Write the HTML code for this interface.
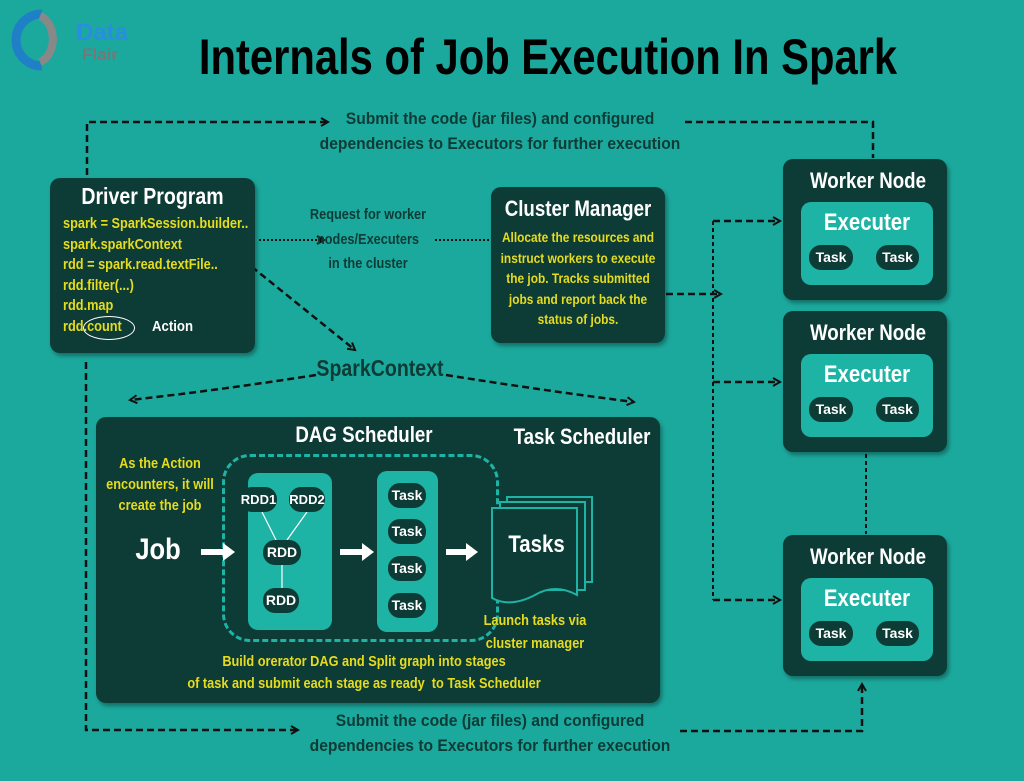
<!DOCTYPE html>
<html><head><meta charset="utf-8"><style>
html,body{margin:0;padding:0}
body{width:1024px;height:781px;position:relative;overflow:hidden;background:#1ca99d;font-family:"Liberation Sans",sans-serif;font-weight:bold}
.a{position:absolute}
.box{position:absolute;background:#0d3b36;border-radius:10px;box-shadow:2px 3px 4px rgba(0,0,0,.35)}
.lt{position:absolute;background:#1db3a5;border-radius:10px}
.pill{position:absolute;background:#0d3b36;color:#fff;border-radius:12px;font-size:14px;text-align:center;line-height:25px}
.t{position:absolute;text-align:center;white-space:nowrap}
.y{color:#e6dc1e}
.w{color:#fff}
.d{color:#0d3b36}
svg{position:absolute;left:0;top:0}
</style></head><body>
<!-- logo -->
<svg width="150" height="80" viewBox="0 0 150 80">
<path d="M42 14 A22 22 0 1 0 42 66" fill="none" stroke="#1f7fc7" stroke-width="9"/>
<path d="M40 16 A18 24 0 0 1 40 62" fill="none" stroke="#888" stroke-width="8"/>
<text x="76" y="40" font-family="Liberation Sans" font-size="24" font-weight="bold" fill="#2a8ee0">Data</text>
<text x="82" y="60" font-family="Liberation Sans" font-size="17" font-weight="bold" fill="#777">Flair</text>
</svg>
<div class="t" style="left:100px;width:896px;top:28px;font-size:50px;color:#000;transform:scaleX(.835)">Internals of Job Execution In Spark</div>

<div class="t d" style="left:300px;width:400px;top:106px;font-size:17px;line-height:25px;transform:scaleX(.92)">Submit the code (jar files) and configured<br>dependencies to Executors for further execution</div>
<div class="t d" style="left:290px;width:400px;top:708px;font-size:17px;line-height:25px;transform:scaleX(.92)">Submit the code (jar files) and configured<br>dependencies to Executors for further execution</div>

<svg width="1024" height="781">
<defs><marker id="ar" markerWidth="10" markerHeight="10" refX="8" refY="5" orient="auto" markerUnits="userSpaceOnUse"><path d="M1 1 L8 5 L1 9" fill="none" stroke="#111" stroke-width="2"/></marker></defs>
<g fill="none" stroke="#111" stroke-width="2.5" stroke-dasharray="7 4">
<path d="M87 175 V122 H328" marker-end="url(#ar)"/>
<path d="M685 122 H873 V158"/>
<path d="M226 246 L355 350" marker-end="url(#ar)"/>
<path d="M316 375 Q220 390 130 400" marker-end="url(#ar)"/>
<path d="M446 375 Q540 390 634 402" marker-end="url(#ar)"/>
<path d="M86 362 V730 H298" marker-end="url(#ar)"/>
<path d="M680 731 H862 V684" marker-end="url(#ar)"/>
<path d="M666 294 H721" marker-end="url(#ar)"/>
<path d="M713 221 H780" marker-end="url(#ar)"/>
<path d="M713 382 H780" marker-end="url(#ar)"/>
<path d="M713 600 H780" marker-end="url(#ar)"/>
</g>
<g fill="none" stroke="#111" stroke-width="2" stroke-dasharray="4 3">
<path d="M713 221 V600"/>
<path d="M866 454 V534"/>
</g>
<g fill="none" stroke="#111" stroke-width="2" stroke-dasharray="2 2">
<path d="M187 246 H226"/>
<path d="M259 240 H324" marker-end="url(#ar)"/>
<path d="M435 240 H503" marker-end="url(#ar)"/>
</g>
</svg>

<!-- Driver Program -->
<div class="box" style="left:50px;top:178px;width:205px;height:175px"></div>
<div class="t w" style="left:50px;width:205px;top:183px;font-size:23px;transform:scaleX(.85)">Driver Program</div>
<div class="a y" style="left:63px;top:214px;font-size:15px;line-height:20.5px;transform:scaleX(.85);transform-origin:left top;white-space:nowrap">spark = SparkSession.builder..<br>spark.sparkContext<br>rdd = spark.read.textFile..<br>rdd.filter(...)<br>rdd.map<br>rdd.count</div>
<div class="a" style="left:83px;top:316px;width:50px;height:22px;border:1.5px solid #fff;border-radius:50%"></div>
<div class="a w" style="left:152px;top:318px;font-size:15px;transform:scaleX(.88);transform-origin:left top">Action</div>

<div class="t d" style="left:298px;width:140px;top:203px;font-size:15px;line-height:24.5px;transform:scaleX(.85)">Request for worker<br>nodes/Executers<br>in the cluster</div>

<!-- Cluster Manager -->
<div class="box" style="left:491px;top:187px;width:174px;height:156px"></div>
<div class="t w" style="left:488px;width:180px;top:196px;font-size:22px;transform:scaleX(.85)">Cluster Manager</div>
<div class="t y" style="left:478px;width:200px;top:227px;font-size:14px;line-height:20.5px;transform:scaleX(.85)">Allocate the resources and<br>instruct workers to execute<br>the job. Tracks submitted<br>jobs and report back the<br>status of jobs.</div>

<div class="t d" style="left:300px;width:160px;top:355px;font-size:23px;transform:scaleX(.85)">SparkContext</div>

<!-- Workers -->
<div class="box" style="left:783px;top:159px;width:164px;height:141px"></div>
<div class="t w" style="left:783px;top:168px;font-size:22px;width:170px;transform:scaleX(.85)">Worker Node</div>
<div class="lt" style="left:801px;top:202px;width:132px;height:83px"></div>
<div class="t w" style="left:801px;top:209px;font-size:24px;width:132px;transform:scaleX(.85)">Executer</div>
<div class="pill" style="left:809px;top:245px;width:44px">Task</div>
<div class="pill" style="left:876px;top:245px;width:43px">Task</div>

<div class="box" style="left:783px;top:311px;width:164px;height:141px"></div>
<div class="t w" style="left:783px;top:320px;font-size:22px;width:170px;transform:scaleX(.85)">Worker Node</div>
<div class="lt" style="left:801px;top:354px;width:132px;height:83px"></div>
<div class="t w" style="left:801px;top:361px;font-size:24px;width:132px;transform:scaleX(.85)">Executer</div>
<div class="pill" style="left:809px;top:397px;width:44px">Task</div>
<div class="pill" style="left:876px;top:397px;width:43px">Task</div>

<div class="box" style="left:783px;top:535px;width:164px;height:141px"></div>
<div class="t w" style="left:783px;top:544px;font-size:22px;width:170px;transform:scaleX(.85)">Worker Node</div>
<div class="lt" style="left:801px;top:578px;width:132px;height:83px"></div>
<div class="t w" style="left:801px;top:585px;font-size:24px;width:132px;transform:scaleX(.85)">Executer</div>
<div class="pill" style="left:809px;top:621px;width:44px">Task</div>
<div class="pill" style="left:876px;top:621px;width:43px">Task</div>

<!-- Big box -->
<div class="box" style="left:96px;top:417px;width:564px;height:286px"></div>
<div class="t w" style="left:264px;width:200px;top:422px;font-size:22px;transform:scaleX(.85)">DAG Scheduler</div>
<div class="t w" style="left:492px;width:180px;top:424px;font-size:22px;transform:scaleX(.85)">Task Scheduler</div>
<div class="t y" style="left:95px;width:130px;top:453px;font-size:15px;line-height:21px;transform:scaleX(.85)">As the Action<br>encounters, it will<br>create the job</div>
<div class="t w" style="left:118px;width:80px;top:533px;font-size:30px;transform:scaleX(.85)">Job</div>
<div class="a" style="left:222px;top:454px;width:271px;height:182px;border:3px dashed #1db3a5;border-radius:28px"></div>
<div class="lt" style="left:248px;top:473px;width:84px;height:157px"></div>
<div class="lt" style="left:377px;top:471px;width:61px;height:161px"></div>
<svg width="1024" height="781"><g stroke="#fff" stroke-width="1.2"><path d="M262 512 L276 540 M307 512 L287 540 M282 565 L282 588"/></g>
<g fill="#fff"><path d="M201 549 h22 v-6 l12 9 l-12 9 v-6 h-22z"/><path d="M340 549 h22 v-6 l12 9 l-12 9 v-6 h-22z"/><path d="M446 549 h20 v-6 l12 9 l-12 9 v-6 h-20z"/></g>
<g fill="#0d3b36" stroke="#1db3a5" stroke-width="2"><path d="M507 497 H592 V582 H507Z"/><path d="M500 502 H585 V590 H500Z"/><path d="M492 508 H577 V595 Q555 583 535 595 Q510 608 492 598 Z"/></g>
</svg>
<div class="pill" style="left:240px;top:487px;width:37px;font-size:13px">RDD1</div>
<div class="pill" style="left:289px;top:487px;width:36px;font-size:13px">RDD2</div>
<div class="pill" style="left:263px;top:540px;width:38px">RDD</div>
<div class="pill" style="left:263px;top:588px;width:36px">RDD</div>
<div class="pill" style="left:388px;top:483px;width:38px">Task</div>
<div class="pill" style="left:388px;top:519px;width:38px">Task</div>
<div class="pill" style="left:388px;top:556px;width:38px">Task</div>
<div class="pill" style="left:388px;top:593px;width:38px">Task</div>
<div class="t w" style="left:494px;width:85px;top:531px;font-size:24px;transform:scaleX(.85)">Tasks</div>
<div class="t y" style="left:470px;width:130px;top:609px;font-size:15px;line-height:23px;transform:scaleX(.85)">Launch tasks via<br>cluster manager</div>
<div class="t y" style="left:144px;width:440px;top:651px;font-size:15px;line-height:21.5px;transform:scaleX(.85)">Build orerator DAG and Split graph into stages<br>of task and submit each stage as ready&nbsp; to Task Scheduler</div>
</body></html>
